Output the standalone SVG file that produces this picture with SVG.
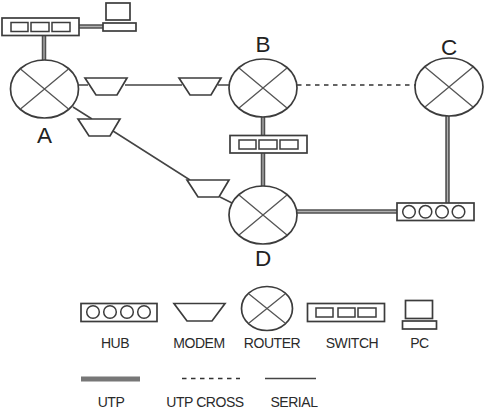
<svg xmlns="http://www.w3.org/2000/svg" width="485" height="413" viewBox="0 0 485 413">
<style>
.s{fill:#fff;stroke:#3c3c3c;stroke-width:1.7}
.i{fill:#fff;stroke:#3c3c3c;stroke-width:1.5}
.x{fill:none;stroke:#555;stroke-width:1.3}
.utp{fill:none;stroke:#505050;stroke-width:4.5}
.core{fill:none;stroke:#b0b0b0;stroke-width:1.3}
.ser{fill:none;stroke:#444;stroke-width:1.5}
.dash{fill:none;stroke:#333;stroke-width:1.5;stroke-dasharray:4.5 4.5}
.big{font:22.500px "Liberation Sans",Arial,sans-serif;fill:#222;text-anchor:middle}
.t{font:14px "Liberation Sans",Arial,sans-serif;fill:#2a2a2a;text-anchor:middle;letter-spacing:-.45px}
</style>
<defs>
<g id="router"><ellipse class="s" cx="0" cy="0" rx="34" ry="29"/><path class="x" d="M-24-20L24 20M24-20L-24 20"/></g>
<g id="modem"><path class="s" d="M0 0H42L32 17H11Z"/></g>
<g id="switch"><rect class="s" x="0" y="0" width="77" height="17.500"/><rect class="i" x="9" y="4.500" width="17" height="9"/><rect class="i" x="29" y="4.500" width="18" height="9"/><rect class="i" x="50" y="4.500" width="18" height="9"/></g>
<g id="hub"><rect class="s" x="0" y="0" width="77" height="17.500"/><circle class="i" cx="12" cy="8.800" r="6.300"/><circle class="i" cx="28.500" cy="8.800" r="6.300"/><circle class="i" cx="45" cy="8.800" r="6.300"/><circle class="i" cx="61.500" cy="8.800" r="6.300"/></g>
</defs>
<g id="connectors">
<path class="utp" d="M44 35V61M79 26.500H103M263 117V135M263 153V187M447.500 116V203M297 211.500H397"/>
<path class="core" d="M44 35V61M79 26.500H103M263 117V135M263 153V187M447.500 116V203M297 211.500H397"/>
<path class="ser" d="M78 85H88M125 85H182M218 85H230M73 107L92 119M113 131L190 180M220 197L234 204"/>
<path class="dash" d="M297 85H415"/>
</g>
<g id="switch-a"><use href="#switch" x="2" y="18"/></g>
<g id="pc-a"><rect class="s" x="106" y="3" width="24" height="17"/><rect class="s" x="103" y="23" width="33" height="8"/></g>
<g id="router-a"><use href="#router" x="44.500" y="89"/><text class="big" x="44.500" y="143">A</text></g>
<g id="router-b"><use href="#router" x="263" y="88"/><text class="big" x="263" y="52">B</text></g>
<g id="router-c"><use href="#router" x="449" y="87"/><text class="big" x="449" y="55">C</text></g>
<g id="router-d"><use href="#router" x="263" y="215"/><text class="big" x="263" y="266">D</text></g>
<g id="modem-1"><use href="#modem" x="85" y="78"/></g>
<g id="modem-2"><use href="#modem" x="179" y="78"/></g>
<g id="modem-3"><use href="#modem" x="78" y="119"/></g>
<g id="modem-4"><use href="#modem" x="187" y="180"/></g>
<g id="switch-b"><use href="#switch" x="230" y="135.500"/></g>
<g id="hub-d"><use href="#hub" x="397" y="203"/></g>
<g id="legend-hub"><rect class="s" x="81" y="303.500" width="76" height="18"/><circle class="i" cx="93" cy="312" r="6.300"/><circle class="i" cx="110" cy="312" r="6.300"/><circle class="i" cx="127" cy="312" r="6.300"/><circle class="i" cx="144" cy="312" r="6.300"/><text class="t" x="115" y="348">HUB</text></g>
<g id="legend-modem"><path class="s" d="M174 303.500H225L212 321H187Z"/><text class="t" x="199" y="348">MODEM</text></g>
<g id="legend-router"><ellipse class="s" cx="267" cy="308.500" rx="25.500" ry="22"/><path class="x" d="M249 294L285 323M285 294L249 323"/><text class="t" x="272" y="348">ROUTER</text></g>
<g id="legend-switch"><rect class="s" x="307.500" y="303.500" width="77" height="18"/><rect class="i" x="316" y="308" width="17" height="9"/><rect class="i" x="338" y="308" width="17" height="9"/><rect class="i" x="358" y="308" width="18" height="9"/><text class="t" x="352" y="348">SWITCH</text></g>
<g id="legend-pc"><rect class="s" x="405.500" y="300.500" width="27" height="18"/><rect class="s" x="402.500" y="321" width="34" height="8"/><text class="t" x="419.500" y="348">PC</text></g>
<g id="legend-utp"><path d="M81 379H140" fill="none" stroke="#777" stroke-width="5"/><text class="t" x="111" y="406.500">UTP</text></g>
<g id="legend-cross"><path class="dash" d="M182 378.500H240"/><text class="t" x="205" y="406.500">UTP CROSS</text></g>
<g id="legend-serial"><path class="ser" d="M265 378.500H316"/><text class="t" x="294" y="406.500">SERIAL</text></g>
</svg>
